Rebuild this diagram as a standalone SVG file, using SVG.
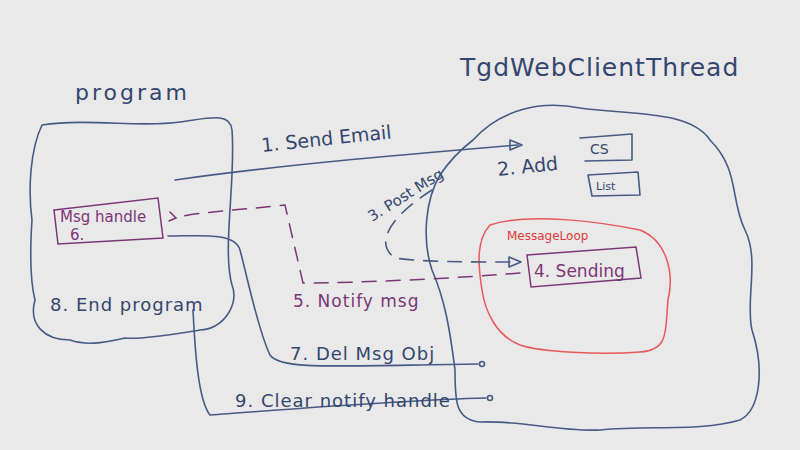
<svg xmlns="http://www.w3.org/2000/svg" width="800" height="450" viewBox="0 0 800 450">
<style>
.b{fill:none;stroke:#465a85;stroke-width:1.6;stroke-linecap:round;stroke-linejoin:round}
.p{fill:none;stroke:#7e3577;stroke-width:1.5;stroke-linecap:round}
.r{fill:none;stroke:#e8585a;stroke-width:1.5}
.d{stroke-dasharray:14 10}
text{font-family:"DejaVu Sans",sans-serif}
.tb{fill:#34466e}
.tp{fill:#7e3577}
</style>
<rect width="800" height="450" fill="#e9e9e9"/>
<g id="program">
<path class="b" d="M42,125 C90,118 140,128 180,122 C210,118 230,112 232,130 C236,180 222,250 232,285 C240,305 222,330 200,330 C175,334 140,340 125,338 C100,344 85,345 70,340 C45,340 28,325 35,300 C30,280 30,250 32,220 C28,190 30,150 42,125 Z"/>
<text class="tb" x="75" y="100" font-size="22" letter-spacing="3">program</text>
</g>
<g id="thread">
<path class="b" d="M473,140 C500,110 540,100 580,108 C630,115 690,110 710,140 C740,170 730,200 745,230 C760,260 745,300 752,330 C765,370 760,410 740,420 C700,432 650,425 600,430 C560,432 520,420 480,422 C455,420 455,400 455,370 C450,330 445,300 432,270 C422,240 425,200 440,175 C450,160 460,150 473,140 Z"/>
<text class="tb" x="460" y="76" font-size="25" letter-spacing="1">TgdWebClientThread</text>
</g>
<g id="msgloop">
<path class="r" d="M490,225 C530,212 600,222 640,230 C665,240 675,270 668,300 C665,330 670,350 640,352 C600,355 540,352 520,345 C495,335 485,310 482,290 C478,265 476,240 490,225 Z"/>
<text x="507" y="240" font-size="12" fill="#e0383a">MessageLoop</text>
</g>
<g id="sending">
<path class="p" d="M527,255 L636,247 L641,278 L531,287 Z"/>
<text class="tp" x="534" y="277" font-size="17">4. Sending</text>
</g>
<g id="cs"><path class="b" d="M580,138 L632,134 L632,160 L585,161"/><text class="tb" x="590" y="154" font-size="14">CS</text></g>
<g id="list"><path class="b" d="M588,175 L638,172 L640,195 L592,196 Z"/><text class="tb" x="596" y="190" font-size="11">List</text></g>
<g id="msghandle">
<path class="p" d="M54,210 L158,198 L163,238 L58,244 Z"/>
<text class="tp" x="60" y="222" font-size="15">Msg handle</text>
<text class="tp" x="70" y="240" font-size="15">6.</text>
</g>
<g id="connectors">
<path class="b" d="M175,180 C280,165 400,155 518,145"/>
<path class="b" d="M510,140 L522,145 L510,150 Z"/>
<path class="b d" d="M432,190 C400,210 370,240 395,258 C420,262 470,262 515,262"/>
<path class="b" d="M509,257 L521,262 L509,267 Z"/>
<path class="p d" d="M520,273 C460,278 360,283 303,283 L285,205 C240,210 200,212 178,217"/>
<path class="p" d="M170,212 L176,218 L169,221"/>
<path class="b" d="M168,236 C200,236 235,232 240,250 C248,280 258,330 270,355 C280,370 330,366 478,364"/>
<circle class="b" cx="482" cy="364" r="2.5"/>
<path class="b" d="M193,310 C195,350 198,400 210,415 C280,410 400,400 486,398"/>
<circle class="b" cx="490" cy="398" r="2.5"/>
</g>
<text class="tb" x="262" y="152" font-size="19" transform="rotate(-6 262 152)">1. Send Email</text>
<text class="tb" x="498" y="176" font-size="19" transform="rotate(-6 498 176)">2. Add</text>
<text class="tb" x="372" y="222" font-size="15" transform="rotate(-32 372 222)">3. Post Msg</text>
<text class="tp" x="293" y="307" font-size="17" letter-spacing="1">5. Notify msg</text>
<text class="tb" x="50" y="311" font-size="18" letter-spacing="1">8. End program</text>
<text class="tb" x="290" y="360" font-size="18" letter-spacing="1">7. Del Msg Obj</text>
<text class="tb" x="235" y="407" font-size="18" letter-spacing="1">9. Clear notify handle</text>
</svg>
